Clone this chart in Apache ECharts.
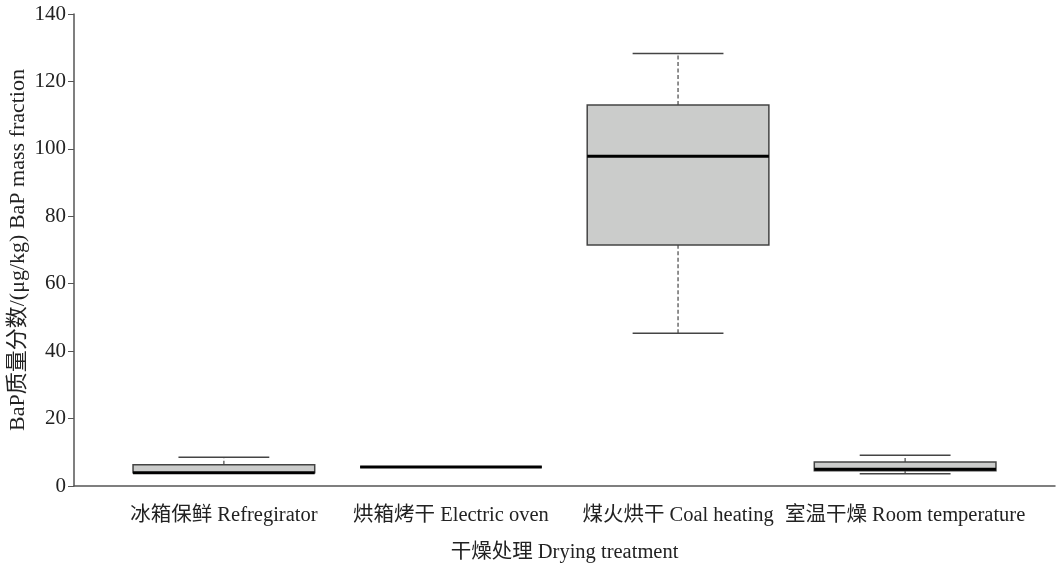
<!DOCTYPE html>
<html>
<head>
<meta charset="utf-8">
<script src="https://cdn.jsdelivr.net/npm/echarts@6/dist/echarts.min.js"></script>
<style>html,body{margin:0;padding:0;background:#fff}#c{width:1059px;height:564px}</style>
</head>
<body>
<div id="c"></div>
<script>
var categories = ['冰箱保鲜 Refregirator', '烘箱烤干 Electric oven', '煤火烘干 Coal heating', '室温干燥 Room temperature'];
var whiskerLow  = [3.9, 5.6, 45.3, 3.6];
var q1Values    = [3.9, 5.6, 71.5, 4.5];
var medians     = [3.95, 5.6, 97.8, 5.0];
var q3Values    = [6.3, 5.6, 113.0, 7.1];
var whiskerHigh = [8.5, 5.6, 128.3, 9.1];
var yTicks = [0, 20, 40, 60, 80, 100, 120, 140];
var categoryPositions = [1, 2, 3, 4];

var FONT = '"Liberation Serif", "Noto Sans CJK SC", serif';
var boxData = categories.map(function (c, i) {
  return [categoryPositions[i], whiskerLow[i], q1Values[i], medians[i], q3Values[i], whiskerHigh[i]];
});

var chart = echarts.init(document.getElementById('c'), null, {renderer: 'canvas'});
chart.setOption({
  backgroundColor: '#fff',
  animation: false,
  grid: {left: 74, right: 4, top: 14, bottom: 78, containLabel: false, outerBoundsMode: 'none'},
  xAxis: {
    type: 'value', min: 0.34, max: 4.66,
    splitLine: {show: false},
    axisLine: {show: true, lineStyle: {color: '#555', width: 1.5}},
    axisTick: {show: false},
    axisLabel: {
      show: true, customValues: categoryPositions, margin: 19,
      fontFamily: FONT, fontSize: 20.5, color: '#222',
      formatter: function (v) { return categories[Math.round(v) - 1] || ''; }
    },
    name: '干燥处理 Drying treatment', nameLocation: 'middle', nameGap: 56, nameMoveOverlap: false,
    nameTextStyle: {fontFamily: FONT, fontSize: 20.5, color: '#222'}
  },
  yAxis: {
    type: 'value', min: 0, max: 140, interval: 20,
    splitLine: {show: false},
    axisLine: {show: true, lineStyle: {color: '#555', width: 1.5}},
    axisTick: {show: true, inside: false, length: 6, lineStyle: {color: '#555'}},
    axisLabel: {margin: 8, fontFamily: FONT, fontSize: 21, color: '#222',
      formatter: function (v) { return yTicks.indexOf(v) >= 0 ? String(v) : ''; }},
    name: 'BaP质量分数/(μg/kg) BaP mass fraction', nameLocation: 'middle', nameRotate: 90, nameGap: 45,
    nameMoveOverlap: false,
    nameTextStyle: {fontFamily: FONT, fontSize: 22, color: '#222'}
  },
  series: [{
    type: 'custom',
    data: boxData,
    encode: {x: 0, y: [1, 2, 3, 4, 5]},
    clip: false,
    renderItem: function (params, api) {
      var x = api.value(0);
      var half = api.size([0.4, 0])[0];
      var capHalf = api.size([0.2, 0])[0];
      var pLow = api.coord([x, api.value(1)]);
      var pQ1 = api.coord([x, api.value(2)]);
      var pMed = api.coord([x, api.value(3)]);
      var pQ3 = api.coord([x, api.value(4)]);
      var pHigh = api.coord([x, api.value(5)]);
      var cx = pMed[0];
      var children = [];
      children.push({type: 'line', shape: {x1: cx, y1: pQ3[1], x2: cx, y2: pHigh[1]},
        style: {stroke: '#555', lineWidth: 1.3, lineDash: [4, 2.5]}});
      children.push({type: 'line', shape: {x1: cx, y1: pLow[1], x2: cx, y2: pQ1[1]},
        style: {stroke: '#555', lineWidth: 1.3, lineDash: [4, 2.5]}});
      children.push({type: 'line', shape: {x1: cx - capHalf, y1: pHigh[1], x2: cx + capHalf, y2: pHigh[1]},
        style: {stroke: '#444', lineWidth: 1.5}});
      children.push({type: 'line', shape: {x1: cx - capHalf, y1: pLow[1], x2: cx + capHalf, y2: pLow[1]},
        style: {stroke: '#444', lineWidth: 1.5}});
      children.push({type: 'rect', shape: {x: cx - half, y: pQ3[1], width: half * 2, height: pQ1[1] - pQ3[1]},
        style: {fill: '#cbcccb', stroke: '#444', lineWidth: 1.5}});
      children.push({type: 'line', shape: {x1: cx - half, y1: pMed[1], x2: cx + half, y2: pMed[1]},
        style: {stroke: '#000', lineWidth: 3}});
      return {type: 'group', children: children};
    }
  }]
});
</script>
</body>
</html>
